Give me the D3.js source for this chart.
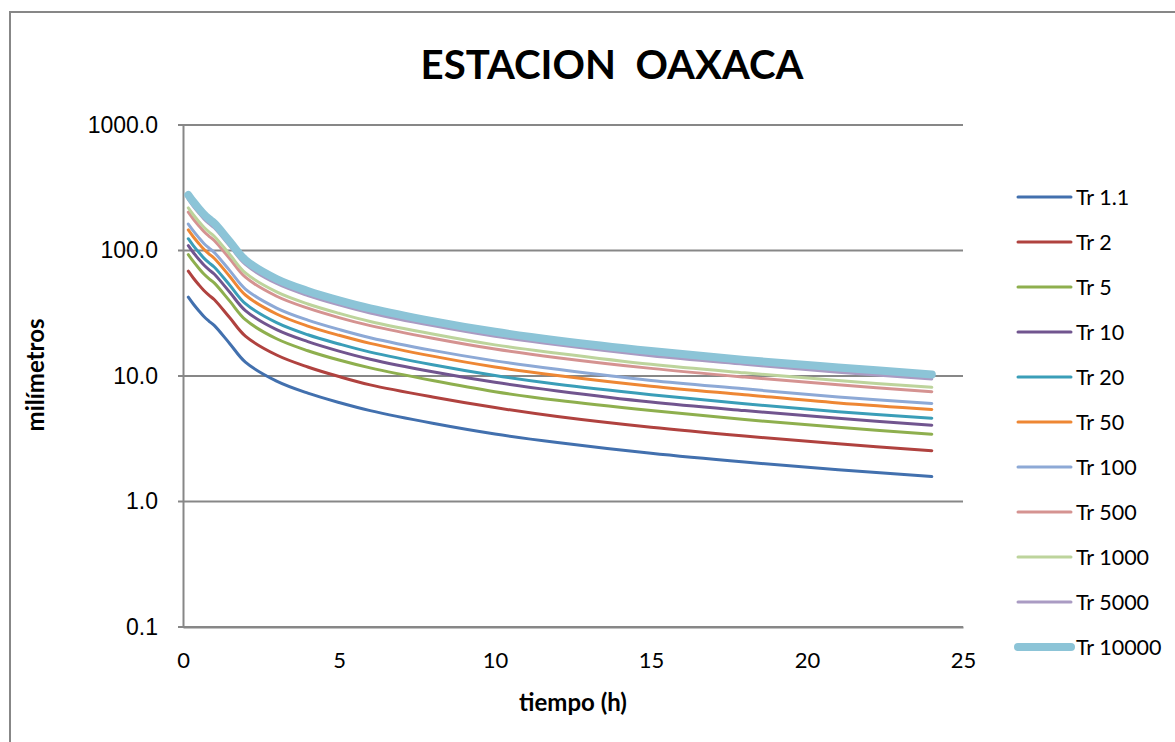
<!DOCTYPE html>
<html><head><meta charset="utf-8">
<script src="https://cdn.jsdelivr.net/npm/d3@7"></script>
<style>
html,body{margin:0;padding:0;background:#fff;}
svg{display:block;}
</style></head>
<body>
<svg id="chart" width="1175" height="742"></svg>
<script>
// ---- data ----
const hours = [0.17, 0.33, 0.5, 0.67, 0.83, 1, 1.5, 2, 3, 4, 5, 6, 8, 10, 12, 15, 18, 21, 24];
const seriesNames = ["Tr 1.1","Tr 2","Tr 5","Tr 10","Tr 20","Tr 50","Tr 100","Tr 500","Tr 1000","Tr 5000","Tr 10000"];
const tr1_1   = [42.5, 37.5, 33.3, 29.8, 27.4, 25.3, 18.1, 12.9, 9.1, 7.3, 6.15, 5.3, 4.2, 3.45, 2.95, 2.42, 2.06, 1.79, 1.58];
const tr2     = [68.4, 60.4, 53.6, 48.0, 44.1, 40.7, 29.1, 20.8, 14.7, 11.8, 9.9, 8.5, 6.8, 5.6, 4.75, 3.9, 3.32, 2.88, 2.54];
const tr5     = [92.7, 81.8, 72.6, 65.0, 59.7, 55.2, 39.5, 28.1, 19.8, 15.9, 13.4, 11.6, 9.2, 7.5, 6.4, 5.3, 4.5, 3.9, 3.44];
const tr10    = [109.2, 96.4, 85.6, 76.6, 70.4, 65.0, 46.5, 33.2, 23.4, 18.8, 15.8, 13.6, 10.8, 8.9, 7.6, 6.2, 5.3, 4.6, 4.06];
const tr20    = [124.1, 109.5, 97.2, 87.0, 80.0, 73.9, 52.9, 37.7, 26.6, 21.3, 18.0, 15.5, 12.3, 10.1, 8.6, 7.1, 6.0, 5.2, 4.61];
const tr50    = [145.8, 128.6, 114.2, 102.2, 94.0, 86.8, 62.1, 44.2, 31.2, 25.0, 21.1, 18.2, 14.4, 11.8, 10.1, 8.3, 7.1, 6.1, 5.42];
const tr100   = [162.4, 143.3, 127.2, 113.8, 104.7, 96.6, 69.1, 49.3, 34.8, 27.9, 23.5, 20.2, 16.0, 13.2, 11.3, 9.2, 7.9, 6.8, 6.04];
const tr500   = [201.9, 178.1, 158.2, 141.6, 130.2, 120.2, 86.0, 61.3, 43.2, 34.7, 29.2, 25.2, 20.0, 16.4, 14.0, 11.5, 9.8, 8.5, 7.5];
const tr1000  = [218.5, 192.8, 171.2, 153.2, 140.8, 130.0, 93.0, 66.3, 46.8, 37.5, 31.6, 27.2, 21.6, 17.7, 15.2, 12.4, 10.6, 9.2, 8.12];
const tr5000  = [255.0, 225.0, 199.8, 178.8, 164.4, 151.8, 108.6, 77.4, 54.6, 43.8, 36.9, 31.8, 25.2, 20.7, 17.7, 14.5, 12.4, 10.7, 9.48];
const tr10000 = [277.1, 244.5, 217.1, 194.3, 178.6, 165.0, 118.0, 84.1, 59.3, 47.6, 40.1, 34.6, 27.4, 22.5, 19.2, 15.8, 13.4, 11.7, 10.3];
const seriesValues = [tr1_1, tr2, tr5, tr10, tr20, tr50, tr100, tr500, tr1000, tr5000, tr10000];
const xTicks = [0, 5, 10, 15, 20, 25];
const yTicks = [0.1, 1, 10, 100, 1000];
const titleText = "ESTACION  OAXACA";
const xTitle = "tiempo (h)";
const yTitle = "milímetros";

// ---- styles ----
const colors = ["#4270AE","#B0423F","#8EAF4E","#71558F","#3A9EB8","#EE8734","#8DA9D6","#D59391","#BDD49C","#AA9BC3","#8CC4D7"];
const widths = [3,3,3,3,3,3,3,3,3,3,8];

const svg = d3.select("#chart");
const m = {left:183, right:963, top:125, bottom:627};
const x = d3.scaleLinear().domain([0,25]).range([m.left, m.right]);
const y = d3.scaleLog().domain([0.1,1000]).range([m.bottom, m.top]);
const grid = "#878787";
const font = "Lato, 'Open Sans', sans-serif";

// outer border
svg.append("rect").attr("x",10).attr("y",12).attr("width",1200).attr("height",800)
  .attr("fill","none").attr("stroke",grid).attr("stroke-width",2);

// gridlines (horizontal)
svg.append("g").selectAll("line").data(yTicks).join("line")
  .attr("x1", m.left-5).attr("x2", m.right)
  .attr("y1", d=>y(d)).attr("y2", d=>y(d))
  .attr("stroke", grid).attr("stroke-width",2);

// axes
const yAxis = d3.axisLeft(y).tickValues(yTicks).tickFormat(d3.format(".1f")).tickSize(0).tickPadding(25);
const gy = svg.append("g").attr("transform",`translate(${m.left},0)`).call(yAxis);
gy.select(".domain").attr("stroke",grid).attr("stroke-width",2);
gy.selectAll("text").attr("font-family","'Liberation Sans', Arial, sans-serif").attr("font-size",23).attr("fill","#000");

const xAxis = d3.axisBottom(x).tickValues(xTicks).tickFormat(d3.format("d")).tickSize(0).tickPadding(25);
const gx = svg.append("g").attr("transform",`translate(0,${m.bottom})`).call(xAxis);
gx.select(".domain").attr("stroke",grid).attr("stroke-width",2);
gx.selectAll("text").attr("font-family",font).attr("font-size",22).attr("fill","#000");

// series
const line = d3.line().x(d=>x(d[0])).y(d=>y(d[1])).curve(d3.curveCatmullRom.alpha(0.5));
seriesValues.forEach((vals,i)=>{
  svg.append("path").datum(hours.map((h,j)=>[h, vals[j]]))
    .attr("d", line).attr("fill","none")
    .attr("stroke", colors[i]).attr("stroke-width", widths[i])
    .attr("stroke-linecap","round").attr("stroke-linejoin","round");
});

// title
const t = svg.append("text").attr("x",612).attr("y",79).attr("text-anchor","middle")
  .attr("font-family",font).attr("font-weight","bold").attr("font-size",40).attr("fill","#000")
  .attr("xml:space","preserve").style("white-space","pre").text(titleText);
const tw = t.node().getComputedTextLength();
t.attr("font-size", 40*383/tw);

// axis titles
svg.append("text").attr("x",573).attr("y",711).attr("text-anchor","middle")
  .attr("font-family",font).attr("font-weight","bold").attr("font-size",24).attr("fill","#000").text(xTitle);
svg.append("text").attr("transform","translate(44,375) rotate(-90)").attr("text-anchor","middle")
  .attr("font-family",font).attr("font-weight","bold").attr("font-size",24).attr("fill","#000").text(yTitle);

// legend
const lg = svg.append("g");
seriesNames.forEach((name,i)=>{
  const ly = 197 + i*45;
  lg.append("line").attr("x1",1018).attr("x2",1071).attr("y1",ly).attr("y2",ly)
    .attr("stroke",colors[i]).attr("stroke-width",widths[i]).attr("stroke-linecap","round");
  lg.append("text").attr("x",1076).attr("y",ly+8).attr("font-family",font).attr("font-size",21.5)
    .attr("fill","#000").text(name);
});
</script>
</body></html>
